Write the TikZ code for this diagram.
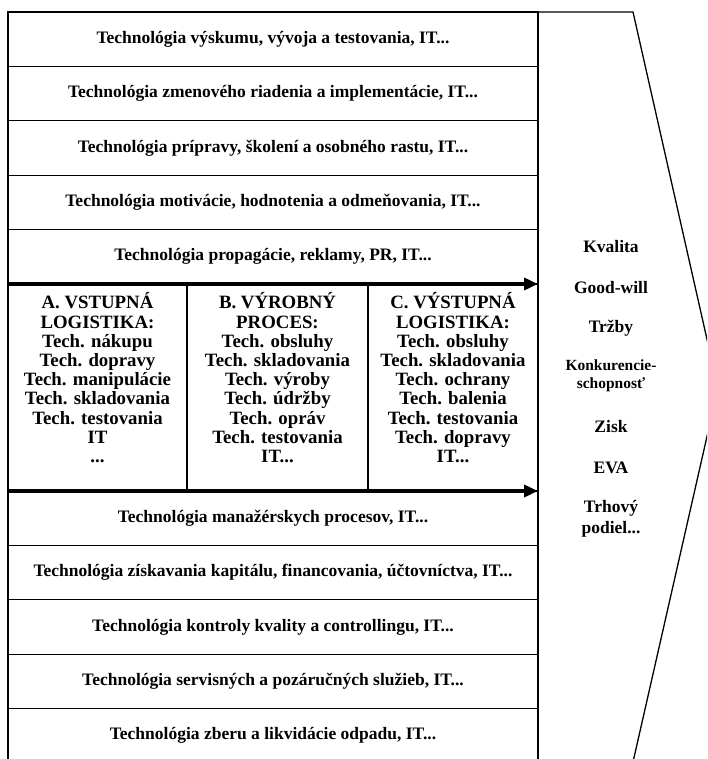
\documentclass[tikz,border=0pt]{standalone}
\usepackage{fontspec}
\setmainfont{Liberation Serif}
\usetikzlibrary{positioning,arrows.meta}
\tikzset{
  rowbox/.style={draw, line width=1.3pt, minimum width=530pt, minimum height=54.4pt,
    inner sep=0pt, outer sep=0pt, font=\fontsize{17.5}{18.7}\selectfont\bfseries},
  colbox/.style={draw, line width=1.3pt, minimum height=207pt, inner sep=0pt, outer sep=0pt},
  coltext/.style={align=center, inner sep=0pt, font=\fontsize{18.8}{19.2}\selectfont\bfseries},
  result/.style={align=center, inner sep=0pt, font=\fontsize{17.5}{21.5}\selectfont\bfseries},
  smallresult/.style={result, font=\fontsize{15.5}{18}\selectfont\bfseries},
  flow/.style={line width=4pt, -{Triangle[length=14pt,width=12pt]}},
}

\begin{document}
\begin{tikzpicture}[x=1pt,y=-1pt]
  \useasboundingbox (0,0) rectangle (707,759);
  \clip (0,0) rectangle (707,759);

  % outline with the pointed right side
  \draw[line width=1.3pt] (8,775) -- (8,12) -- (633,12) -- (718,388) -- (633,762);

  % upper rows
  \node[rowbox, anchor=north west] (r1) at (8,12) {Technológia výskumu, vývoja a testovania, IT...};
  \node[rowbox, below=0pt of r1] (r2) {Technológia zmenového riadenia a implementácie, IT...};
  \node[rowbox, below=0pt of r2] (r3) {Technológia prípravy, školení a osobného rastu, IT...};
  \node[rowbox, below=0pt of r3] (r4) {Technológia motivácie, hodnotenia a odmeňovania, IT...};
  \node[rowbox, below=0pt of r4] (r5) {Technológia propagácie, reklamy, PR, IT...};

  % primary activities
  \node[colbox, minimum width=179pt, anchor=north west] (colA) at (r5.south west) {};
  \node[colbox, minimum width=181pt, right=0pt of colA] (colB) {};
  \node[colbox, minimum width=170pt, right=0pt of colB] (colC) {};
  \node[coltext, below=8.5pt of colA.north] (txtA) {A. VSTUPNÁ\\LOGISTIKA:\\Tech. nákupu\\Tech. dopravy\\Tech. manipulácie\\Tech. skladovania\\Tech. testovania\\IT\\...};
  \node[coltext, below=8.5pt of colB.north] (txtB) {B. VÝROBNÝ\\PROCES:\\Tech. obsluhy\\Tech. skladovania\\Tech. výroby\\Tech. údržby\\Tech. opráv\\Tech. testovania\\IT...};
  \node[coltext, below=8.5pt of colC.north] (txtC) {C. VÝSTUPNÁ\\LOGISTIKA:\\Tech. obsluhy\\Tech. skladovania\\Tech. ochrany\\Tech. balenia\\Tech. testovania\\Tech. dopravy\\IT...};

  % lower rows
  \node[rowbox, anchor=north west] (r6) at (colA.south west) {Technológia manažérskych procesov, IT...};
  \node[rowbox, below=0pt of r6] (r7) {Technológia získavania kapitálu, financovania, účtovníctva, IT...};
  \node[rowbox, below=0pt of r7] (r8) {Technológia kontroly kvality a controllingu, IT...};
  \node[rowbox, below=0pt of r8] (r9) {Technológia servisných a pozáručných služieb, IT...};
  \node[rowbox, below=0pt of r9] (r10) {Technológia zberu a likvidácie odpadu, IT...};

  % flow arrows
  \draw[flow] (r5.south west) -- (r5.south east);
  \draw[flow] (colA.south west) -- (colC.south east);

  % results
  \foreach \y/\t/\n in {247/Kvalita/kval, 288/Good-will/good, 328/Tržby/trzby,
      427/Zisk/zisk, 468/EVA/eva, 519/{Trhový\\podiel...}/trh}
    \node[result] (\n) at (611,\y) {\t};
  \node[smallresult] (konk) at (611,376) {Konkurencie-\\schopnosť};
\end{tikzpicture}
\end{document}
